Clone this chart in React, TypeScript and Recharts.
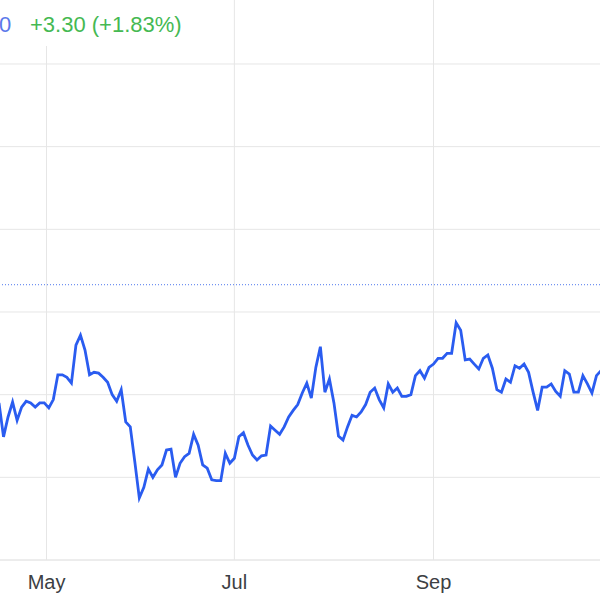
import { LineChart, Line, XAxis, YAxis, CartesianGrid, ReferenceLine } from 'recharts'

// daily closes, one per trading day (index = trading day)
const closes = [
  179.0, 174.9, 177.3, 179.1, 176.9, 178.5, 179.2, 179.0, 178.5, 179.0,
  179.0, 178.4, 179.4, 182.4, 182.4, 182.1, 181.4, 186.0, 187.2, 185.4,
  182.4, 182.7, 182.6, 182.1, 181.5, 180.0, 179.2, 180.6, 176.7, 176.1,
  171.9, 167.5, 168.8, 171.0, 170.0, 170.9, 171.5, 173.3, 173.4, 170.0,
  171.7, 172.5, 172.9, 175.2, 173.9, 171.5, 171.1, 169.7, 169.6, 169.6,
  172.9, 171.7, 172.3, 174.9, 175.4, 173.9, 172.7, 172.1, 172.6, 172.7,
  176.2, 175.7, 175.2, 176.1, 177.3, 178.1, 178.8, 180.2, 181.4, 179.6,
  183.3, 185.8, 180.3, 181.9, 179.0, 175.0, 174.5, 176.1, 177.5, 177.3,
  177.9, 178.8, 180.3, 180.8, 179.4, 178.4, 181.3, 180.3, 180.8, 179.8,
  179.8, 180.0, 182.3, 182.9, 182.0, 183.3, 183.7, 184.4, 184.4, 185.0,
  185.0, 188.7, 187.8, 184.2, 184.3, 183.7, 183.1, 184.4, 184.8, 183.2,
  180.6, 180.3, 181.9, 181.5, 183.5, 183.2, 183.7, 182.7, 180.3, 178.1,
  180.9, 180.9, 181.3, 180.4, 179.8, 182.9, 182.5, 180.3, 180.3, 182.3,
  181.3, 180.2, 182.3, 182.9,
]

// month boundaries, in trading-day units
const monthTicks = [10.5, 52, 96]
const monthLabels = ['May', 'Jul', 'Sep']

const priceTicks = [160, 170, 180, 190, 200, 210, 220]
const prevClose = 193.3

const lastDigit = '0'
const change = '+3.30 (+1.83%)'

const data = closes.map((close, day) => ({ day, close }))

const blue = '#2a5cf0', grid = '#e6e6e6', label = '#3c4043', green = '#45b952'

// the chart is cropped to the window edges, so drop the default body margin
if (typeof document !== 'undefined') document.body.style.margin = '0'

export default function App() {
  return (
    <div style={{ position: 'fixed', left: 0, top: 0, width: 600, height: 600, overflow: 'hidden', background: '#fff', fontFamily: 'Arial, "Liberation Sans", sans-serif' }}>
      <div style={{ position: 'absolute', left: -1, top: 0 }}>
        <LineChart width={602} height={600} data={data} margin={{ top: 0, right: 0, left: 0, bottom: 0 }}>
          <CartesianGrid stroke={grid} strokeWidth={1} horizontalValues={priceTicks} verticalValues={monthTicks} />
          <XAxis
            dataKey="day"
            type="number"
            domain={[0, closes.length - 1]}
            ticks={monthTicks}
            tickFormatter={(v: number) => monthLabels[monthTicks.indexOf(v)] ?? ''}
            tickLine={false}
            axisLine={{ stroke: grid }}
            tick={{ fontSize: 20, fill: label }}
            tickMargin={9}
            height={40}
            interval={0}
          />
          <YAxis hide domain={[160, 227.74]} ticks={priceTicks} />
          <ReferenceLine y={prevClose} stroke="#4f78ee" strokeWidth={1} strokeDasharray="1 2" />
          <Line
            type="linear"
            dataKey="close"
            stroke={blue}
            strokeWidth={2.8}
            dot={false}
            isAnimationActive={false}
          />
        </LineChart>
      </div>
      <div style={{ position: 'absolute', left: 0, top: 0, width: 200, height: 46, background: '#fff' }} />
      <div style={{ position: 'absolute', left: -1, top: 14, fontSize: 22, lineHeight: '22px', color: '#5b78ea', whiteSpace: 'nowrap' }}>{lastDigit}</div>
      <div style={{ position: 'absolute', left: 30, top: 14, fontSize: 22, lineHeight: '22px', color: green, whiteSpace: 'nowrap' }}>{change}</div>
    </div>
  )
}
